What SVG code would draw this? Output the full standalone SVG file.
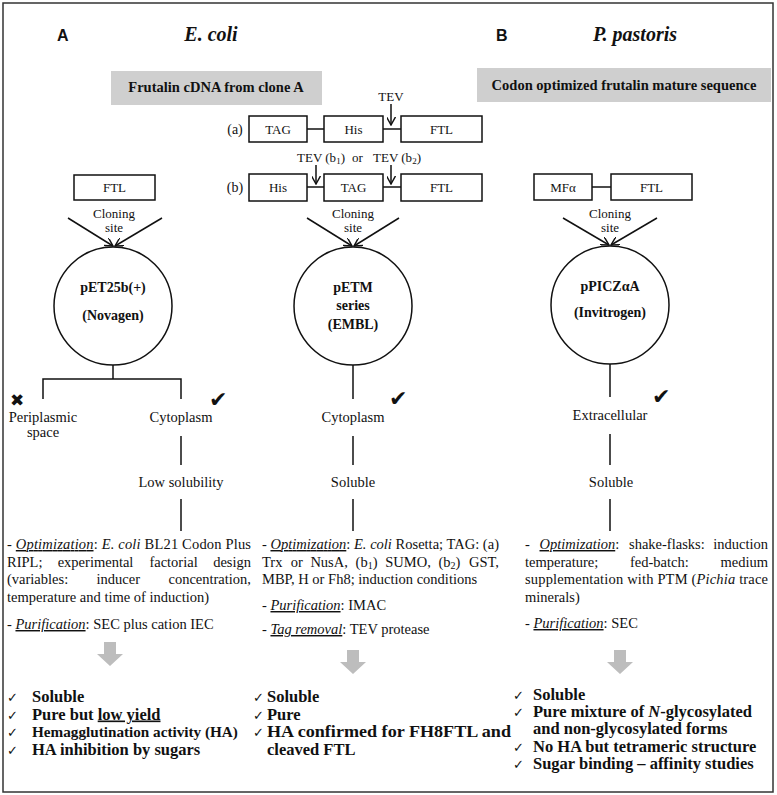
<svg xmlns="http://www.w3.org/2000/svg" width="777" height="795" viewBox="0 0 777 795">
<defs>
<style>
.t{font-family:"Liberation Serif","Times New Roman",serif;fill:#111}
.s{font-family:"Liberation Sans",Arial,sans-serif;fill:#111;font-weight:bold}
.sym{font-family:"DejaVu Sans",sans-serif;fill:#111}
.b{font-weight:bold}
.i{font-style:italic}
.u{text-decoration:underline}
.p{font-size:14.5px}
.lbl{font-size:13px}
.box{fill:#fff;stroke:#111;stroke-width:1.5}
.ln{stroke:#111;stroke-width:1.5;fill:none}
.gray{fill:#cfcfcf}
.garrow{fill:#bdbdbd}
.li{font-size:16.5px;font-weight:bold}
.li.sm{font-size:15.2px}
.ck{font-size:13px}
.big{font-size:22px}
</style>
<marker id="v" viewBox="0 0 10 10" refX="9" refY="5" markerWidth="9" markerHeight="9" markerUnits="userSpaceOnUse" orient="auto">
<path d="M0,0 L9,5 L0,10" fill="none" stroke="#111" stroke-width="1.6"/>
</marker>
</defs>
<rect x="0" y="0" width="777" height="795" fill="#fff"/>
<rect x="3" y="3" width="770" height="789" fill="none" stroke="#333" stroke-width="1.5"/>

<g id="headers">
<text class="s" x="57" y="41" font-size="16">A</text>
<text class="t b i" x="211" y="41" font-size="20" text-anchor="middle">E. coli</text>
<text class="s" x="496" y="41" font-size="16">B</text>
<text class="t b i" x="635" y="41" font-size="20" text-anchor="middle">P. pastoris</text>
</g>

<g id="source-a">
<rect class="gray" x="111" y="71" width="211" height="34"/>
<text class="t b" x="216" y="92" font-size="14.5" text-anchor="middle">Frutalin cDNA from clone A</text>
</g>
<g id="source-b">
<rect class="gray" x="477" y="68" width="294" height="34"/>
<text class="t b" x="624" y="90" font-size="14.5" text-anchor="middle">Codon optimized frutalin mature sequence</text>
</g>

<g id="connectors">
<line class="ln" x1="307" y1="129" x2="324" y2="129"/>
<line class="ln" x1="383" y1="129" x2="401" y2="129"/>
<line class="ln" x1="391" y1="104" x2="391" y2="125" marker-end="url(#v)"/>
<line class="ln" x1="307" y1="187" x2="324" y2="187"/>
<line class="ln" x1="383" y1="187" x2="401" y2="187"/>
<line class="ln" x1="316" y1="165" x2="316" y2="184" marker-end="url(#v)"/>
<line class="ln" x1="391" y1="165" x2="391" y2="184" marker-end="url(#v)"/>
<line class="ln" x1="592" y1="187" x2="611" y2="187"/>
<line class="ln" x1="68" y1="218" x2="113" y2="246" marker-end="url(#v)"/>
<line class="ln" x1="162" y1="218" x2="115" y2="246" marker-end="url(#v)"/>
<line class="ln" x1="307" y1="218" x2="352" y2="246" marker-end="url(#v)"/>
<line class="ln" x1="399" y1="218" x2="354" y2="246" marker-end="url(#v)"/>
<line class="ln" x1="563" y1="218" x2="609" y2="245" marker-end="url(#v)"/>
<line class="ln" x1="657" y1="218" x2="611" y2="245" marker-end="url(#v)"/>
<polyline class="ln" points="113,365 113,379"/>
<polyline class="ln" points="43,399 43,379 181,379 181,399"/>
<line class="ln" x1="181" y1="436" x2="181" y2="465"/>
<line class="ln" x1="181" y1="499" x2="181" y2="531"/>
<line class="ln" x1="353" y1="365" x2="353" y2="399"/>
<line class="ln" x1="353" y1="436" x2="353" y2="465"/>
<line class="ln" x1="353" y1="499" x2="353" y2="531"/>
<line class="ln" x1="610" y1="364" x2="610" y2="397"/>
<line class="ln" x1="610" y1="434" x2="610" y2="465"/>
<line class="ln" x1="610" y1="499" x2="610" y2="531"/>
</g>

<g id="construct-a">
<text class="t" x="235" y="134" font-size="14" text-anchor="middle">(a)</text>
<rect class="box" x="249" y="116" width="58" height="26"/>
<text class="t lbl" x="278" y="134" text-anchor="middle">TAG</text>
<rect class="box" x="324" y="116" width="59" height="26"/>
<text class="t lbl" x="353.5" y="134" text-anchor="middle">His</text>
<rect class="box" x="401" y="116" width="81" height="26"/>
<text class="t lbl" x="441.5" y="134" text-anchor="middle">FTL</text>
<text class="t lbl" x="391" y="101" text-anchor="middle">TEV</text>
</g>

<g id="construct-b">
<text class="t" x="235" y="192" font-size="14" text-anchor="middle">(b)</text>
<rect class="box" x="249" y="174" width="58" height="27"/>
<text class="t lbl" x="278" y="192" text-anchor="middle">His</text>
<rect class="box" x="324" y="174" width="59" height="27"/>
<text class="t lbl" x="353.5" y="192" text-anchor="middle">TAG</text>
<rect class="box" x="401" y="174" width="81" height="27"/>
<text class="t lbl" x="441.5" y="192" text-anchor="middle">FTL</text>
<text class="t lbl" x="297" y="162">TEV (b<tspan font-size="9" dy="2">1</tspan><tspan dy="-2">)</tspan></text>
<text class="t lbl" x="352" y="162">or</text>
<text class="t lbl" x="373" y="162">TEV (b<tspan font-size="9" dy="2">2</tspan><tspan dy="-2">)</tspan></text>
</g>

<g id="insert-ecoli">
<rect class="box" x="74" y="175" width="81" height="25"/>
<text class="t lbl" x="114.5" y="192" text-anchor="middle">FTL</text>
</g>

<g id="insert-pichia">
<rect class="box" x="534" y="174" width="58" height="26"/>
<text class="t lbl" x="563" y="192" text-anchor="middle">MFα</text>
<rect class="box" x="611" y="174" width="81" height="26"/>
<text class="t lbl" x="651.5" y="192" text-anchor="middle">FTL</text>
</g>

<g id="cloning-labels">
<text class="t lbl" x="114" y="218" text-anchor="middle">Cloning</text>
<text class="t lbl" x="114" y="232" text-anchor="middle">site</text>
<text class="t lbl" x="353" y="218" text-anchor="middle">Cloning</text>
<text class="t lbl" x="353" y="232" text-anchor="middle">site</text>
<text class="t lbl" x="610" y="218" text-anchor="middle">Cloning</text>
<text class="t lbl" x="610" y="232" text-anchor="middle">site</text>
</g>

<g id="vector-pet25b">
<circle class="box" cx="113" cy="306" r="59"/>
<text class="t b" x="113" y="292" font-size="14" text-anchor="middle">pET25b(+)</text>
<text class="t b" x="113" y="320" font-size="14" text-anchor="middle">(Novagen)</text>
</g>
<g id="vector-petm">
<circle class="box" cx="353" cy="306" r="59"/>
<text class="t b" x="353" y="292" font-size="14" text-anchor="middle">pETM</text>
<text class="t b" x="353" y="310" font-size="14" text-anchor="middle">series</text>
<text class="t b" x="353" y="329" font-size="14" text-anchor="middle">(EMBL)</text>
</g>
<g id="vector-ppicz">
<circle class="box" cx="610" cy="305" r="59"/>
<text class="t b" x="610" y="291" font-size="14" text-anchor="middle">pPICZαA</text>
<text class="t b" x="610" y="317" font-size="14" text-anchor="middle">(Invitrogen)</text>
</g>

<g id="loc-periplasm">
<text class="sym" x="10" y="406" font-size="17">✖</text>
<text class="t p" x="43" y="422" text-anchor="middle">Periplasmic</text>
<text class="t p" x="43" y="437" text-anchor="middle">space</text>
</g>
<g id="loc-cyto-a">
<text class="t p" x="181" y="422" text-anchor="middle">Cytoplasm</text>
<text class="sym big" x="209" y="407">✔</text>
</g>
<g id="loc-cyto-b">
<text class="t p" x="353" y="422" text-anchor="middle">Cytoplasm</text>
<text class="sym big" x="389" y="406">✔</text>
</g>
<g id="loc-extra">
<text class="t p" x="610" y="420" text-anchor="middle">Extracellular</text>
<text class="sym big" x="652" y="404">✔</text>
</g>

<g id="solubility">
<text class="t p" x="181" y="487" text-anchor="middle">Low solubility</text>
<text class="t p" x="353" y="487" text-anchor="middle">Soluble</text>
<text class="t p" x="611" y="487" text-anchor="middle">Soluble</text>
</g>

<g id="notes-a" class="t p">
<text x="7" y="549" textLength="244" lengthAdjust="spacing">- <tspan class="i u">Optimization</tspan>: <tspan class="i">E. coli</tspan> BL21 Codon Plus</text>
<text y="566.5"><tspan x="7">RIPL;</tspan><tspan x="57.7">experimental</tspan><tspan x="149.4">factorial</tspan></text>
<text x="251" y="566.5" text-anchor="end">design</text>
<text y="584"><tspan x="7">(variables:</tspan><tspan x="96.5">inducer</tspan></text>
<text x="251" y="584" text-anchor="end">concentration,</text>
<text x="7" y="601.5">temperature and time of induction)</text>
<text x="7" y="629">- <tspan class="i u">Purification</tspan>: SEC plus cation IEC</text>
</g>

<g id="notes-b" class="t p">
<text x="262" y="549" textLength="237" lengthAdjust="spacing">- <tspan class="i u">Optimization</tspan>: <tspan class="i">E. coli</tspan> Rosetta; TAG: (a)</text>
<text y="566.5"><tspan x="262">Trx</tspan><tspan x="290.7">or</tspan><tspan x="310.4">NusA,</tspan><tspan x="355.6">(b</tspan><tspan font-size="10" dy="2">1</tspan><tspan dy="-2">)</tspan><tspan x="385.3">SUMO,</tspan><tspan x="438.5">(b</tspan><tspan font-size="10" dy="2">2</tspan><tspan dy="-2">)</tspan></text>
<text x="499" y="566.5" text-anchor="end">GST,</text>
<text x="262" y="584">MBP, H or Fh8; induction conditions</text>
<text x="262" y="610">- <tspan class="i u">Purification</tspan>: IMAC</text>
<text x="262" y="634">- <tspan class="i u">Tag removal</tspan>: TEV protease</text>
</g>

<g id="notes-c" class="t p">
<text y="549"><tspan x="525">-</tspan><tspan x="539.5" class="i u">Optimization</tspan><tspan>:</tspan><tspan x="629">shake-flasks:</tspan></text>
<text x="768" y="549" text-anchor="end">induction</text>
<text y="566.5"><tspan x="525">temperature;</tspan><tspan x="630">fed-batch:</tspan></text>
<text x="768" y="566.5" text-anchor="end">medium</text>
<text x="525" y="584" textLength="243" lengthAdjust="spacing">supplementation with PTM (<tspan class="i">Pichia</tspan> trace</text>
<text x="525" y="601.5">minerals)</text>
<text x="525" y="628">- <tspan class="i u">Purification</tspan>: SEC</text>
</g>

<g id="down-arrows">
<polygon class="garrow" points="104,642 116,642 116,654 123,654 110,666 97,654 104,654"/>
<polygon class="garrow" points="347,650 359,650 359,662 366,662 353,674 340,662 347,662"/>
<polygon class="garrow" points="614,650 626,650 626,662 633,662 620,674 607,662 614,662"/>
</g>

<g id="results-a">
<text class="sym ck" x="7" y="702">✓</text>
<text class="t li" x="32" y="702">Soluble</text>
<text class="sym ck" x="7" y="719.5">✓</text>
<text class="t li" x="32" y="719.5">Pure but <tspan class="u">low yield</tspan></text>
<text class="sym ck" x="7" y="737">✓</text>
<text class="t li sm" x="32" y="737">Hemagglutination activity (HA)</text>
<text class="sym ck" x="7" y="754.5">✓</text>
<text class="t li" x="32" y="754.5">HA inhibition by sugars</text>
</g>

<g id="results-b">
<text class="sym ck" x="253" y="702">✓</text>
<text class="t li" x="267" y="702">Soluble</text>
<text class="sym ck" x="253" y="719.5">✓</text>
<text class="t li" x="267" y="719.5">Pure</text>
<text class="sym ck" x="253" y="737">✓</text>
<text class="t li" x="267" y="737" textLength="244" lengthAdjust="spacingAndGlyphs">HA confirmed for FH8FTL and</text>
<text class="t li" x="267" y="754.5">cleaved FTL</text>
</g>

<g id="results-c">
<text class="sym ck" x="513" y="700">✓</text>
<text class="t li" x="533" y="700">Soluble</text>
<text class="sym ck" x="513" y="717.2">✓</text>
<text class="t li" x="533" y="717.2">Pure mixture of <tspan class="i">N</tspan>-glycosylated</text>
<text class="t li" x="533" y="734.4">and non-glycosylated forms</text>
<text class="sym ck" x="513" y="751.6">✓</text>
<text class="t li" x="533" y="751.6">No HA but tetrameric structure</text>
<text class="sym ck" x="513" y="768.8">✓</text>
<text class="t li" x="533" y="768.8">Sugar binding – affinity studies</text>
</g>
</svg>
